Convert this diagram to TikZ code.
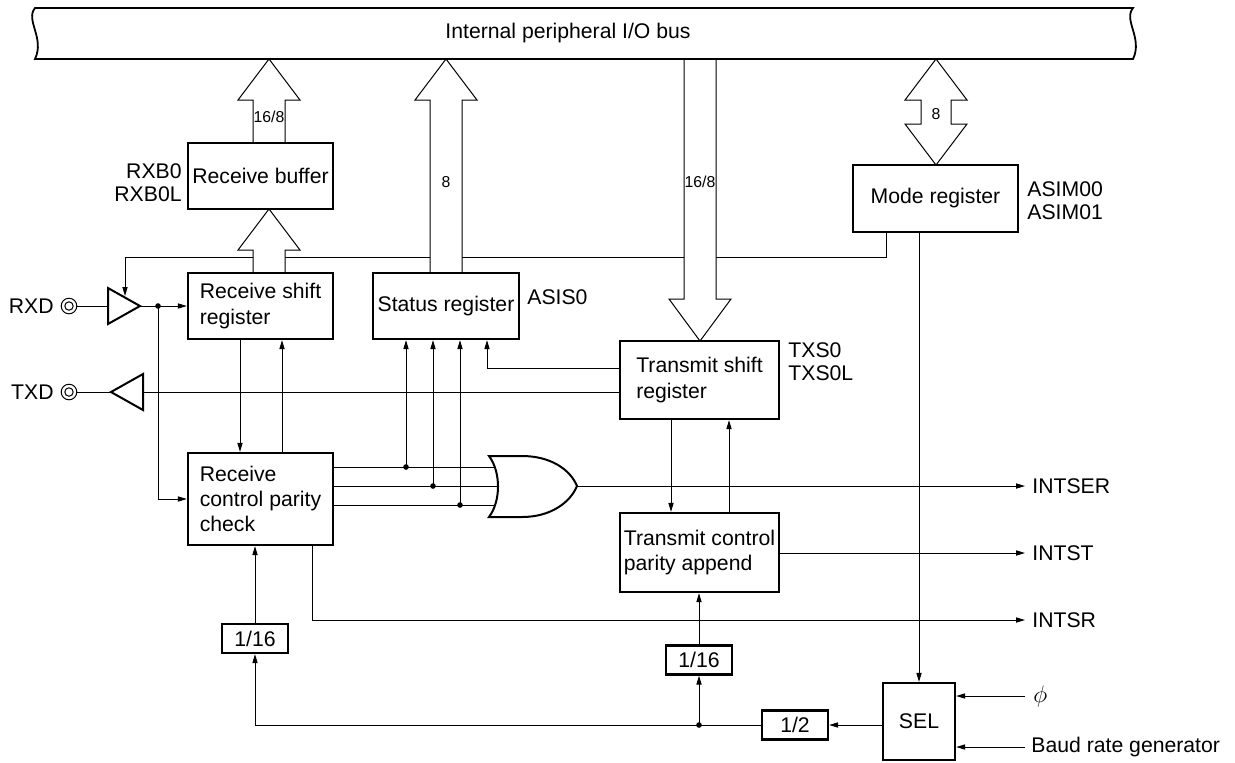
\documentclass[tikz,border=0pt]{standalone}
\usepackage{fontspec}
\setmainfont{Liberation Sans}
\usetikzlibrary{arrows.meta}

\begin{document}
\begin{tikzpicture}
[x=0.5pt,y=-0.5pt,
  regbox/.style={shape=rectangle,draw,line width=1.15pt,inner sep=0pt,font=\fontsize{10.6}{12.7}\selectfont},
  divbox/.style={regbox,minimum width=33pt,minimum height=14.5pt},
  sig/.style={-{Triangle[length=4.5pt,width=2.6pt]},line width=0.5pt},
  wire/.style={-,line width=0.5pt},
  hollow/.style={draw,fill=white,line width=0.5pt},
  gate/.style={draw,fill=white,line width=1pt},
  txt/.style={font=\fontsize{10.6}{11.5}\selectfont,inner sep=0pt},
  small/.style={font=\fontsize{7.9}{9}\selectfont,inner sep=0pt}]
\useasboundingbox (0,0) rectangle (1235,762);
%% enable line from mode register to RXD buffer
\coordinate (modeout) at (886,232);
\coordinate (enbend) at (125,257);
\coordinate (rxen) at (125,296);
\draw[sig] (modeout) |- (enbend) -- (rxen);
%% hollow bus arrows
\foreach \x/\tip/\tail in {269/59/143, 269/209/273, 446/59/273} {
  \path[hollow] (\x-16,\tail) -- (\x-16,\tip+41) -- (\x-31,\tip+41) -- (\x,\tip)
    -- (\x+31,\tip+41) -- (\x+16,\tip+41) -- (\x+16,\tail);
}
\path[hollow] (684,59) -- (684,299) -- (669,299) -- (700,341) -- (731,299) -- (716,299) -- (716,59);
\path[hollow] (936,59) -- (967,100) -- (951,100) -- (951,124) -- (967,124) -- (936,165)
  -- (905,124) -- (921,124) -- (921,100) -- (905,100) -- cycle;
\node[small] (rxbwidth) at (269,117) {16/8};
\node[small] (stwidth) at (446,182) {8};
\node[small] (txwidth) at (700,182) {16/8};
\node[small] (modewidth) at (936,114) {8};
%% internal bus
\path[draw,fill=white,line width=0.9pt] (35,8) -- (1133,8) .. controls (1123,20) and (1143,38) .. (1133,59)
  -- (35,59) .. controls (45,38) and (25,20) .. (35,8) -- cycle;
\node[txt] (bustext) at (568,33) {Internal peripheral I/O bus};
%% registers
\node[regbox,minimum width=72.5pt,minimum height=33pt] (rxbuf) at (260.5,176) {Receive buffer};
\node[regbox,minimum width=72.5pt,minimum height=33pt,align=left] (rxshift) at (260.5,306) {Receive shift\\register};
\node[regbox,minimum width=73pt,minimum height=33pt] (status) at (446,306) {Status register};
\node[regbox,minimum width=72.5pt,minimum height=46pt,align=left] (rxctl) at (260.5,499) {Receive\\control parity\\check};
\node[regbox,minimum width=79.5pt,minimum height=39pt,align=left] (txshift) at (699.5,380) {Transmit shift\\register};
\node[regbox,minimum width=79.5pt,minimum height=39.5pt,align=left] (txctl) at (699.5,552.5) {Transmit control\\parity append};
\node[regbox,minimum width=82.5pt,minimum height=33.5pt] (mode) at (935.5,198.5) {Mode register};
\node[regbox,minimum width=36pt,minimum height=38.5pt] (sel) at (919,721.5) {SEL};
\node[divbox] (div16a) at (255,638.5) {1/16};
\node[divbox] (div16b) at (699,660) {1/16};
\node[divbox] (div2) at (795,725) {1/2};
%% register names
\node[txt,anchor=east,align=right] (rxblabel) at (182,183) {RXB0\\RXB0L};
\node[txt,anchor=west] (asislabel) at (527,297) {ASIS0};
\node[txt,anchor=west,align=left] (txslabel) at (788,362) {TXS0\\TXS0L};
\node[txt,anchor=west,align=left] (asimlabel) at (1027,201) {ASIM00\\ASIM01};
%% RXD pin
\node[txt,anchor=east] (rxdlabel) at (54,306) {RXD};
\coordinate (rxdpin) at (69,306);
\draw[line width=0.5pt] (rxdpin) circle (3.9pt) (rxdpin) circle (2.1pt);
\coordinate (rxdin) at (108,306);
\coordinate (rxdout) at (140,306);
\draw[line width=1pt] (108,288) -- (rxdout) -- (108,324) -- cycle;
\draw[wire] ([xshift=3.9pt]rxdpin) -- (rxdin);
\coordinate (rxdsplit) at (158,306);
\draw[wire] (rxdout) -- (rxdsplit);
\draw[sig] (rxdsplit) -- (rxshift.west);
\draw[sig] (rxdsplit) |- (rxctl.west);
\fill (rxdsplit) circle (1.4pt);
%% TXD pin
\node[txt,anchor=east] (txdlabel) at (54,392) {TXD};
\coordinate (txdpin) at (69,392);
\draw[line width=0.5pt] (txdpin) circle (3.9pt) (txdpin) circle (2.1pt);
\coordinate (txdout) at (111,392);
\coordinate (txdin) at (143,392);
\draw[line width=1pt] (143,374) -- (txdout) -- (143,410) -- cycle;
\draw[wire] (txdout) -- ([xshift=3.9pt]txdpin);
\draw[wire] (txshift.west |- txdin) -- (txdin);
%% shift register <-> control
\draw[sig] ([xshift=-10.25pt]rxshift.south) -- ([xshift=-10.25pt]rxctl.north);
\draw[sig] ([xshift=10.75pt]rxctl.north) -- ([xshift=10.75pt]rxshift.south);
\draw[sig] ([xshift=-14.25pt]txshift.south) -- ([xshift=-14.25pt]txctl.north);
\draw[sig] ([xshift=14.75pt]txctl.north) -- ([xshift=14.75pt]txshift.south);
%% status flags and OR gate
\coordinate (txst) at (487,368);
\draw[sig] (txshift.west |- txst) -| (txst |- status.south);
\foreach \n/\x/\y in {1/406/467, 2/433/486, 3/460/505} {
  \coordinate (orin\n) at (497,\y);
  \coordinate (stj\n) at (\x,\y);
  \draw[wire] (rxctl.east |- orin\n) -- (orin\n);
  \draw[sig] (stj\n) -- (stj\n |- status.south);
  \fill (stj\n) circle (1.4pt);
}
\coordinate (orout) at (577,486);
\path[gate] (489,456) .. controls (501,472) and (501,501) .. (489,517) -- (522,517)
  .. controls (550,517) and (570,503) .. (orout) .. controls (570,469) and (550,456) .. (522,456) -- cycle;
%% interrupt outputs
\foreach \name/\label/\y in {intser/INTSER/486, intst/INTST/553, intsr/INTSR/620} {
  \node[txt,anchor=west] (\name) at (1032,\y) {\label};
}
\draw[sig] (orout) -- ([xshift=-3.5pt]intser.west);
\draw[sig] (txctl.east |- intst) -- ([xshift=-3.5pt]intst.west);
\draw[sig] ([xshift=26pt]rxctl.south) |- ([xshift=-3.5pt]intsr.west);
%% clock selection
\draw[sig] (mode.south -| sel.north) -- (sel.north);
\node[anchor=west,inner sep=0pt,font=\fontsize{12}{14}\selectfont] (phi) at (1033,696) {$\phi$};
\node[txt,anchor=west] (baud) at (1031,747) {Baud rate generator};
\draw[sig] ([xshift=-4pt]phi.west) -- (sel.east |- phi.west);
\draw[sig] ([xshift=-3pt]baud.west) -- (sel.east |- baud.west);
\draw[sig] (sel.west |- div2.east) -- (div2.east);
\coordinate (clk) at (699,725);
\draw[wire] (div2.west) -- (clk);
\draw[sig] (clk) -| (div16a.south);
\draw[sig] (clk) -- (div16b.south);
\fill (clk) circle (1.4pt);
\draw[sig] (div16a.north) -- (div16a.north |- rxctl.south);
\draw[sig] (div16b.north) -- (div16b.north |- txctl.south);
\end{tikzpicture}
\end{document}
